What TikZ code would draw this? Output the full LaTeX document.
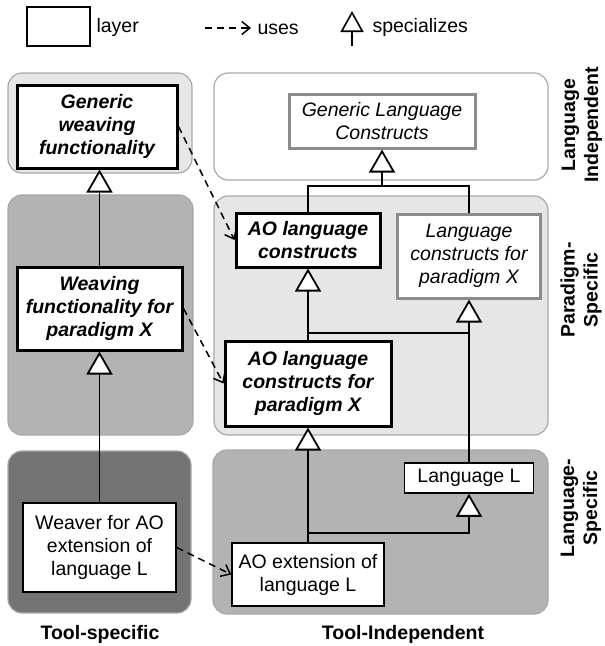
\documentclass[tikz,border=0pt]{standalone}
\usepackage{fontspec}
\setmainfont{Liberation Sans}
\usetikzlibrary{arrows.meta}
\definecolor{layerline}{HTML}{A8A8A8}
\definecolor{lightfill}{HTML}{E6E6E6}
\definecolor{midfill}{HTML}{B3B3B3}
\definecolor{darkfill}{HTML}{737373}
\definecolor{boxgray}{HTML}{8C8C8C}
\newcommand\basefont{\fontsize{19.5}{23}\selectfont}
\tikzset{
  layerbox/.style={draw=layerline, line width=1.2pt, rounded corners=14pt},
  plainbox/.style={draw=black, line width=1.5pt, fill=white, align=center,
    inner sep=0pt, font=\basefont},
  strongbox/.style={plainbox, line width=3pt, font=\basefont\bfseries\itshape},
  abstractbox/.style={plainbox, draw=boxgray, line width=3pt, font=\basefont\itshape},
  spec/.style={line width=1.8pt, -{Triangle[length=23pt, width=26pt, fill=white]}},
  joint/.style={line width=1.8pt},
  uses/.style={line width=1.5pt, dash pattern=on 7pt off 5pt,
    -{Straight Barb[length=8pt, width=13pt]}},
  axislabel/.style={font=\basefont\bfseries, align=center},
  legendtext/.style={font=\basefont, anchor=west}
}
\begin{document}
\begin{tikzpicture}[x=1pt, y=-1pt]
\useasboundingbox (0,0) rectangle (605,646);

% legend
\draw[line width=1.5pt] (27,7) rectangle (90,46);
\node[legendtext] (lglayer) at (93,27) {layer};
\coordinate (lgusesA) at (205,28);
\coordinate (lgusesB) at (251,28);
\draw[uses] (lgusesA) -- (lgusesB);
\node[legendtext] (lguses) at (254,29) {uses};
\coordinate (lgspecA) at (352,46);
\coordinate (lgspecB) at (352,11);
\draw[line width=1.6pt, -{Triangle[length=21pt, width=23pt, fill=white]}] (lgspecA) -- (lgspecB);
\node[legendtext] (lgspec) at (369,27) {specializes};

% layers: tool-specific column
\draw[layerbox, fill=lightfill] (8,73) rectangle (192,173);
\draw[layerbox, fill=midfill]   (8,195) rectangle (193,435);
\draw[layerbox, fill=darkfill]  (8,451) rectangle (191,613);
% layers: tool-independent column
\draw[layerbox, fill=white]     (214,73) rectangle (548,180);
\draw[layerbox, fill=lightfill] (214,196) rectangle (548,435);
\draw[layerbox, fill=midfill]   (213,450) rectangle (548,614);

% nodes
\node[strongbox, minimum width=160pt, minimum height=83pt] (gwf) at (97,126.5)
  {Generic\\weaving\\functionality};
\node[strongbox, minimum width=165pt, minimum height=83pt] (wfp) at (99.5,308.5)
  {Weaving\\functionality for\\paradigm X};
\node[plainbox, minimum width=153pt, minimum height=89pt] (weaver) at (99.5,547.5)
  {Weaver for AO\\extension of\\language L};

\node[abstractbox, minimum width=186pt, minimum height=54pt] (glc) at (382,121)
  {Generic Language\\Constructs};
\node[strongbox, minimum width=144pt, minimum height=54pt] (aolc) at (308,240)
  {AO language\\constructs};
\node[abstractbox, minimum width=143pt, minimum height=84pt] (lcpx) at (469,256)
  {Language\\constructs for\\paradigm X};
\node[strongbox, minimum width=166pt, minimum height=85pt] (aolcpx) at (308,383.5)
  {AO language\\constructs for\\paradigm X};
\node[plainbox, minimum width=129pt, minimum height=30pt] (langL) at (469,478)
  {Language L};
\node[plainbox, minimum width=152pt, minimum height=63pt] (aoext) at (308,574.5)
  {AO extension of\\language L};

% specialization: tool-specific column
\draw[spec] (wfp.north) -- (wfp.north |- gwf.south);
\draw[spec] (weaver.north) -- (weaver.north -| wfp.south) -- (wfp.south);

% specialization: tool-independent column
\coordinate (jtop) at (382,186);
\draw[joint] (aolc.north) |- (jtop) -| (lcpx.north);
\draw[spec] (jtop) -- (glc.south);

\coordinate (jmid) at (308,333);
\draw[spec] (aolcpx.north) -- (aolc.south);
\draw[spec] (langL.north) -- (lcpx.south);
\draw[joint] (jmid) -- (jmid -| langL.north);

\coordinate (jlow) at (308,533);
\draw[spec] (aoext.north) -- (aolcpx.south);
\draw[spec] (jlow) -| (langL.south);

% uses relations
\draw[uses] (gwf.east) -- (aolc.west);
\draw[uses] (wfp.east) -- (aolcpx.west);
\draw[uses] (weaver.east) -- (aoext.west);

% axis labels
\node[axislabel, rotate=90] (rowli) at (582,125) {Language\\Independent};
\node[axislabel, rotate=90] (rowps) at (581,290) {Paradigm-\\Specific};
\node[axislabel, rotate=90] (rowls) at (581,508) {Language-\\Specific};
\node[axislabel] (colts) at (100,634) {Tool-specific};
\node[axislabel] (colti) at (403,634) {Tool-Independent};
\end{tikzpicture}
\end{document}
